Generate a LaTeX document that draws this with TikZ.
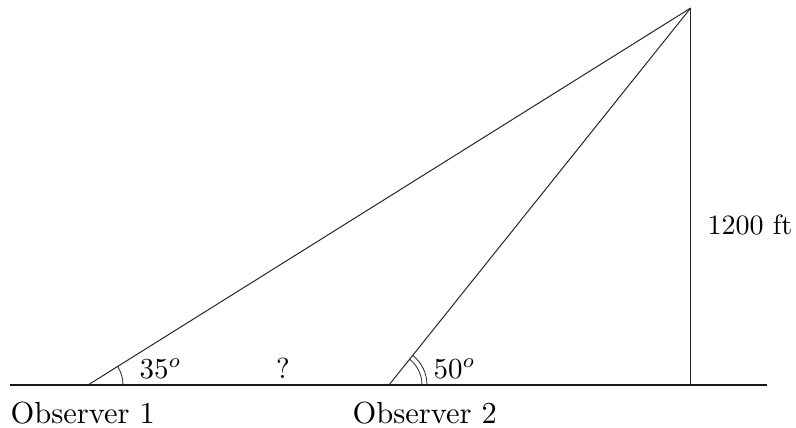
\documentclass[tikz,border=0pt]{standalone}
\usetikzlibrary{angles}
\begin{document}
\begin{tikzpicture}[x=1pt,y=-1pt,
  thinline/.style={line width=1pt,black!85},
  groundline/.style={line width=2.2pt,black!90},
  lbl/.style={inner sep=0pt,anchor=base west,scale=2.9}]
\useasboundingbox (0,0) rectangle (796,428);
\coordinate (gl) at (10,385);
\coordinate (gr) at (767,385);
\coordinate (o1) at (88,385);
\coordinate (o2) at (389,385);
\coordinate (foot) at (690.7,385);
\coordinate (apex) at (690.7,8);
\draw[groundline] (gl) -- (gr);
\draw[thinline] (o1) -- (apex);
\draw[thinline] (o2) -- (apex);
\draw[thinline] (foot) -- (apex);
\pic[draw,thinline,line width=0.8pt,angle radius=35pt] {angle=foot--o1--apex};
\pic[draw,thinline,line width=0.8pt,angle radius=33pt] {angle=foot--o2--apex};
\pic[draw,thinline,line width=0.8pt,angle radius=38pt] {angle=foot--o2--apex};
\node[lbl] (a1) at (139,378) {$35^o$};
\node[lbl,anchor=base] (q) at (283,378) {?};
\node[lbl] (a2) at (433,378) {$50^o$};
\node[lbl,scale=3.05/2.9] (t1) at (10,423) {Observer 1};
\node[lbl,scale=3.05/2.9] (t2) at (352,423) {Observer 2};
\node[lbl,scale=2.8/2.9] (h) at (707,234) {1200 ft};
\end{tikzpicture}
\end{document}
